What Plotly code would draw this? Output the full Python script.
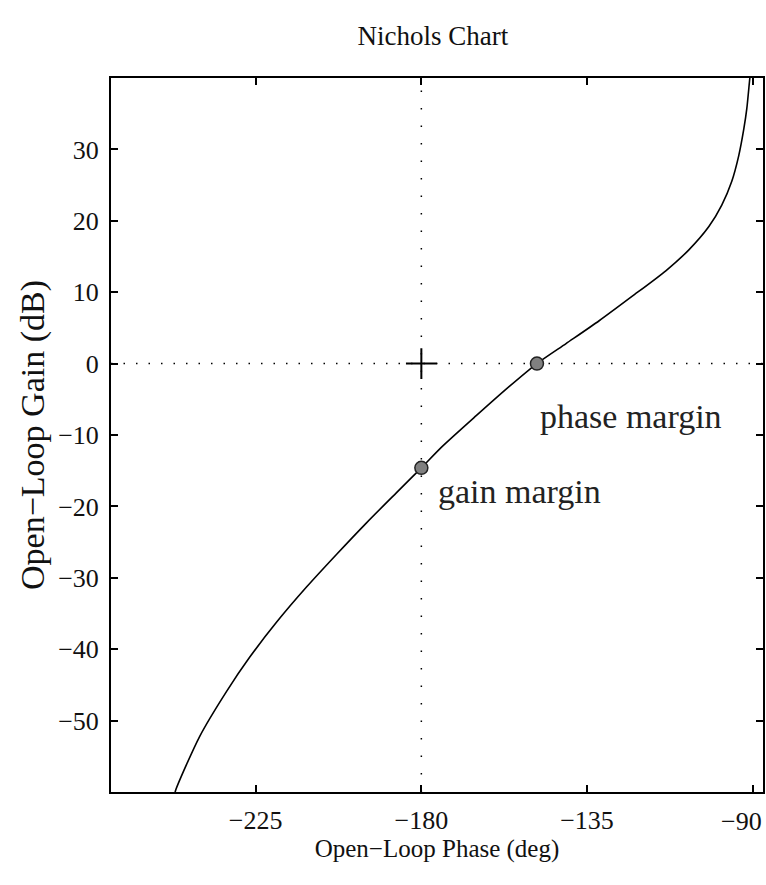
import plotly.graph_objects as go

# Curve (open-loop phase in deg, gain in dB)
phase = [-247.2, -246.7, -240.2, -232.9, -226.6, -219.3, -211.2, -203.0, -194.9,
         -186.8, -180.0, -174.3, -165.1, -156.1, -148.6, -140.7, -131.7, -122.8,
         -113.6, -107.4, -101.9, -98.4, -95.7, -93.8, -92.4, -91.6, -90.8, -90.5]
gain = [-60.8, -59.7, -52.2, -45.9, -41.1, -36.2, -31.3, -26.7, -22.3,
        -18.1, -14.6, -11.6, -7.3, -3.2, 0.0, 2.8, 6.0, 9.4,
        13.0, 15.9, 19.2, 22.2, 25.5, 29.1, 32.9, 35.7, 39.9, 41.3]

margin_phase = [-180.0, -148.6]
margin_gain = [-14.6, 0.0]
critical_point = (-180.0, 0.0)

x_ticks = [-225, -180, -135, -90]
x_tick_labels = ["\u2212225", "\u2212180", "\u2212135", "\u221290"]
y_ticks = [30, 20, 10, 0, -10, -20, -30, -40, -50]
x_range = [-264.3, -87.2]
y_range = [-60, 40]

FONT = "Liberation Serif"

fig = go.Figure()

# reference dotted lines
fig.add_trace(go.Scatter(x=x_range, y=[critical_point[1]] * 2, mode="lines",
                         line=dict(color="black", width=1.5, dash="1.5px,11px"),
                         hoverinfo="skip", showlegend=False))
fig.add_trace(go.Scatter(x=[critical_point[0]] * 2, y=y_range, mode="lines",
                         line=dict(color="black", width=1.5, dash="1.5px,16px"),
                         hoverinfo="skip", showlegend=False))

fig.add_trace(go.Scatter(x=phase, y=gain, mode="lines",
                         line=dict(color="black", width=1.6, shape="spline", smoothing=0.7),
                         showlegend=False))

fig.add_trace(go.Scatter(x=[critical_point[0]], y=[critical_point[1]], mode="markers",
                         marker=dict(symbol="cross-thin", size=22,
                                     line=dict(color="black", width=2)),
                         showlegend=False))

fig.add_trace(go.Scatter(x=margin_phase, y=margin_gain, mode="markers",
                         marker=dict(symbol="circle", size=13, color="#808080",
                                     line=dict(color="#222222", width=1.5)),
                         showlegend=False))

fig.add_annotation(x=-148.2, y=-7.4, text="phase margin", showarrow=False,
                   xanchor="left", yanchor="middle",
                   font=dict(family=FONT, size=34, color="#222"))
fig.add_annotation(x=-175.9, y=-17.9, text="gain margin", showarrow=False,
                   xanchor="left", yanchor="middle",
                   font=dict(family=FONT, size=34, color="#222"))

TICK_FONT = dict(family=FONT, size=26, color="#111")

# the last x tick label is pulled inside the figure, as in the reference
fig.add_annotation(x=x_ticks[-1], xref="x", y=0, yref="paper", text=x_tick_labels[-1],
                   showarrow=False, xanchor="right", yanchor="middle",
                   xshift=11, yshift=-29, font=TICK_FONT)

axis_common = dict(showgrid=False, zeroline=False, showline=True, linecolor="black",
                   linewidth=2, mirror="ticks", ticks="inside", ticklen=7,
                   tickwidth=1.5, tickcolor="black", automargin=False,
                   tickfont=TICK_FONT)

fig.update_xaxes(range=x_range, tickvals=x_ticks,
                 ticktext=x_tick_labels[:-1] + [""],
                 ticklabelstandoff=4,
                 title=dict(text="Open\u2212Loop Phase (deg)", standoff=4,
                            font=dict(family=FONT, size=25, color="#111")),
                 **axis_common)
fig.update_yaxes(range=y_range, tickvals=y_ticks, ticklabelstandoff=5,
                 title=dict(text="Open\u2212Loop Gain (dB)", standoff=3,
                            font=dict(family=FONT, size=34, color="#111")),
                 **axis_common)

fig.update_layout(
    width=766, height=885,
    margin=dict(l=111, r=3, t=78, b=93, autoexpand=False),
    paper_bgcolor="white", plot_bgcolor="white",
    title=dict(text="Nichols Chart", x=0.565, xanchor="center", y=0.96, yanchor="middle",
               font=dict(family=FONT, size=27, color="#111")),
)

fig.write_html("out.html", config={"displayModeBar": False},
               post_script="document.body.style.margin='0';document.body.style.overflow='hidden';")
